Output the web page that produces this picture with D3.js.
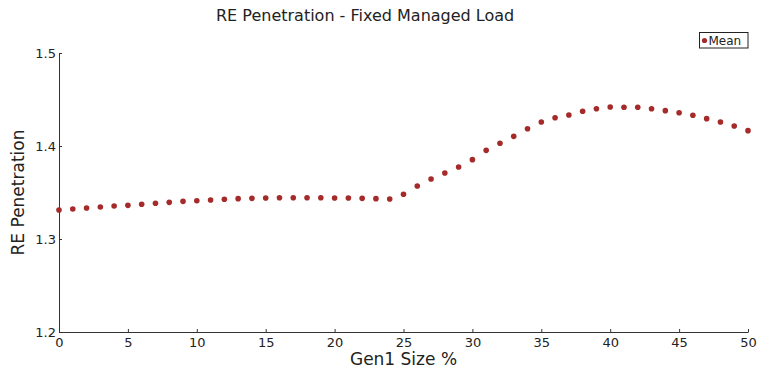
<!doctype html>
<html lang="en">

<head>
  <meta charset="UTF-8">
  <title>RE Penetration - Fixed Managed Load</title>
  <style type="text/css">
    body { margin: 0; background: #fff; }
    text { font-family: "DejaVu Sans", Verdana, sans-serif; fill: #222; }
  </style>
  <script src="https://cdn.jsdelivr.net/npm/d3@7/dist/d3.min.js"></script>
</head>

<body>
  <div id="container"></div>
  <script>
    var width = 758,
      height = 370,
      margin = { left: 59, top: 53, right: 10, bottom: 38 },
      g_width = 748 - margin.left,
      g_height = 332 - margin.top;

    // Gen1 size %, 0..50
    var gen1Size = d3.range(0, 51);
    // mean RE penetration
    var meanValues = [
      1.3312, 1.3323, 1.3333, 1.3344, 1.3355, 1.3362, 1.3373, 1.3384, 1.3394, 1.3405,
      1.3412, 1.3419, 1.3427, 1.3434, 1.3437, 1.3441, 1.3444, 1.3444, 1.3444, 1.3444,
      1.3441, 1.3441, 1.3437, 1.3434, 1.3430, 1.3481, 1.3570, 1.3645, 1.3710, 1.3774,
      1.3853, 1.3953, 1.4029, 1.4104, 1.4186, 1.4258, 1.4304, 1.4333, 1.4373, 1.4401,
      1.4419, 1.4416, 1.4416, 1.4401, 1.4380, 1.4358, 1.4330, 1.4294, 1.4258, 1.4215,
      1.4165
    ];
    var xTicks = [0, 5, 10, 15, 20, 25, 30, 35, 40, 45, 50];
    var yTicks = [1.2, 1.3, 1.4, 1.5];

    var svg = d3.select('#container').append('svg')
      .attr('width', width).attr('height', height);
    var g = svg.append('g').attr('transform', 'translate(' + margin.left + ',' + margin.top + ')');

    var x = d3.scaleLinear().domain([0, 50]).range([0, g_width]);
    var y = d3.scaleLinear().domain([1.2, 1.5]).range([g_height, 0]);

    // axes, ticks drawn inward
    var xAxis = g.append('g').attr('transform', 'translate(0,' + g_height + ')')
      .call(d3.axisBottom(x).tickValues(xTicks).tickSizeInner(-3).tickSizeOuter(0).tickPadding(5));
    var yAxis = g.append('g')
      .call(d3.axisLeft(y).tickValues(yTicks).tickFormat(d3.format('.1f')).tickSizeInner(-3).tickSizeOuter(0).tickPadding(3));

    [xAxis, yAxis].forEach(function (a) {
      a.select('.domain').attr('stroke', '#333');
      a.selectAll('.tick line').attr('stroke', '#333');
      a.selectAll('.tick text').style('font-size', '13px').attr('fill', '#222')
        .style('font-family', '"DejaVu Sans", Verdana, sans-serif');
    });
    xAxis.selectAll('.tick text').attr('dy', '0.8em');

    // points
    g.selectAll('circle.pt').data(meanValues).enter().append('circle')
      .attr('class', 'pt')
      .attr('cx', function (d, i) { return x(gen1Size[i]); })
      .attr('cy', function (d) { return y(d); })
      .attr('r', 2.8)
      .attr('fill', '#a52a2a');

    // titles
    svg.append('text').attr('x', 216).attr('y', 21)
      .attr('text-anchor', 'start').style('font-size', '16px')
      .text('RE Penetration - Fixed Managed Load');
    svg.append('text').attr('x', margin.left + g_width / 2).attr('y', 365)
      .attr('text-anchor', 'middle').style('font-size', '17px')
      .text('Gen1 Size %');
    svg.append('text')
      .attr('transform', 'translate(24,' + (margin.top + g_height / 2) + ') rotate(-90)')
      .attr('text-anchor', 'middle').style('font-size', '17px')
      .text('RE Penetration');

    // legend
    var lg = svg.append('g').attr('transform', 'translate(699.5,32.5)');
    lg.append('rect').attr('width', 48.5).attr('height', 15.5)
      .attr('fill', '#fff').attr('stroke', '#222').attr('stroke-width', 1);
    lg.append('circle').attr('cx', 5).attr('cy', 8).attr('r', 2.6).attr('fill', '#a52a2a');
    lg.append('text').attr('x', 9).attr('y', 12.5).style('font-size', '12px').text('Mean');
  </script>
</body>

</html>
